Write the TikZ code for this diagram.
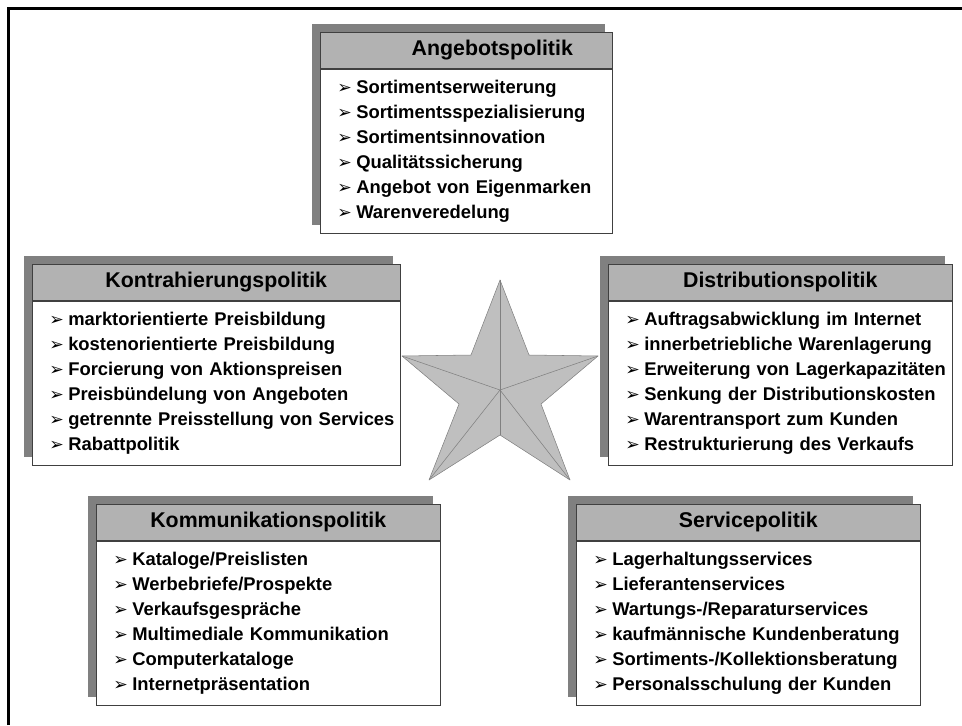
\documentclass[tikz,border=0pt]{standalone}
\usepackage{fontspec}
\setmainfont{Liberation Sans}
\newfontfamily\dejavu{DejaVu Sans}
\usetikzlibrary{positioning,backgrounds}
\newcommand{\itm}{\hspace*{12.75pt}\makebox[14.25pt][l]{\dejavu\fontsize{13}{13}\selectfont ➢}}

\begin{document}
\begin{tikzpicture}[
    x=0.75pt,
    y=-0.75pt,
    head/.style={
        draw=black!75,
        fill=black!30,
        minimum width=#1,
        minimum height=27pt,
        inner sep=0pt,
        font=\fontsize{16}{18}\selectfont\bfseries
    },
    list/.style={
        draw=black!75,
        fill=white,
        text width=#1,
        minimum height=123pt,
        inner sep=0pt,
        align=left,
        font=\fontsize{13.8}{18.75}\selectfont\bfseries
    },
    boxshadow/.style={
        fill=black!50
    },
    star/.style={
        draw=black!50,
        fill=black!25,
        line join=round
    }
]

\useasboundingbox (0,0) rectangle (962,725);
\draw[line width=2.25pt] (8,725) -- (8,8) -- (962,8);

\node[head=219pt, anchor=north west] (angebot) at (320,32) {\hspace*{39pt}Angebotspolitik};
\node[list=219pt, below=0pt of angebot] (angebot-list) {\itm Sortimentserweiterung\\ \itm Sortimentsspezialisierung\\ \itm Sortimentsinnovation\\ \itm Qualitätssicherung\\ \itm Angebot von Eigenmarken\\ \itm Warenveredelung};

\node[head=276pt, anchor=north west] (kontra) at (32,264) {Kontrahierungspolitik};
\node[list=276pt, below=0pt of kontra] (kontra-list) {\itm marktorientierte Preisbildung\\ \itm kostenorientierte Preisbildung\\ \itm Forcierung von Aktionspreisen\\ \itm Preisbündelung von Angeboten\\ \itm getrennte Preisstellung von Services\\ \itm Rabattpolitik};

\node[head=258pt, anchor=north west] (distri) at (608,264) {Distributionspolitik};
\node[list=258pt, below=0pt of distri] (distri-list) {\itm Auftragsabwicklung im Internet\\ \itm innerbetriebliche Warenlagerung\\ \itm Erweiterung von Lagerkapazitäten\\ \itm Senkung der Distributionskosten\\ \itm Warentransport zum Kunden\\ \itm Restrukturierung des Verkaufs};

\node[head=258pt, anchor=north west] (kommu) at (96,504) {Kommunikationspolitik};
\node[list=258pt, below=0pt of kommu] (kommu-list) {\itm Kataloge/Preislisten\\ \itm Werbebriefe/Prospekte\\ \itm Verkaufsgespräche\\ \itm Multimediale Kommunikation\\ \itm Computerkataloge\\ \itm Internetpräsentation};

\node[head=258pt, anchor=north west] (service) at (576,504) {Servicepolitik};
\node[list=258pt, below=0pt of service] (service-list) {\itm Lagerhaltungsservices\\ \itm Lieferantenservices\\ \itm Wartungs-/Reparaturservices\\ \itm kaufmännische Kundenberatung\\ \itm Sortiments-/Kollektionsberatung\\ \itm Personalsschulung der Kunden};

\begin{scope}[on background layer]
\foreach \b in {angebot,kontra,distri,kommu,service}
    \fill[boxshadow] ([shift={(-8,-8)}]\b.north west) rectangle ([shift={(-8,-8)}]\b-list.south east);
\end{scope}

\coordinate (mid) at (500,390);
\filldraw[star] (500,280) -- (529,355) -- (598,356) -- (541,404) -- (570,480) -- (500,435) -- (429,480) -- (459,404) -- (402,356) -- (471,355) -- cycle;
\foreach \p in {(500,280),(598,356),(570,480),(500,435),(429,480),(402,356)}
    \draw[star] (mid) -- \p;

\end{tikzpicture}
\end{document}
